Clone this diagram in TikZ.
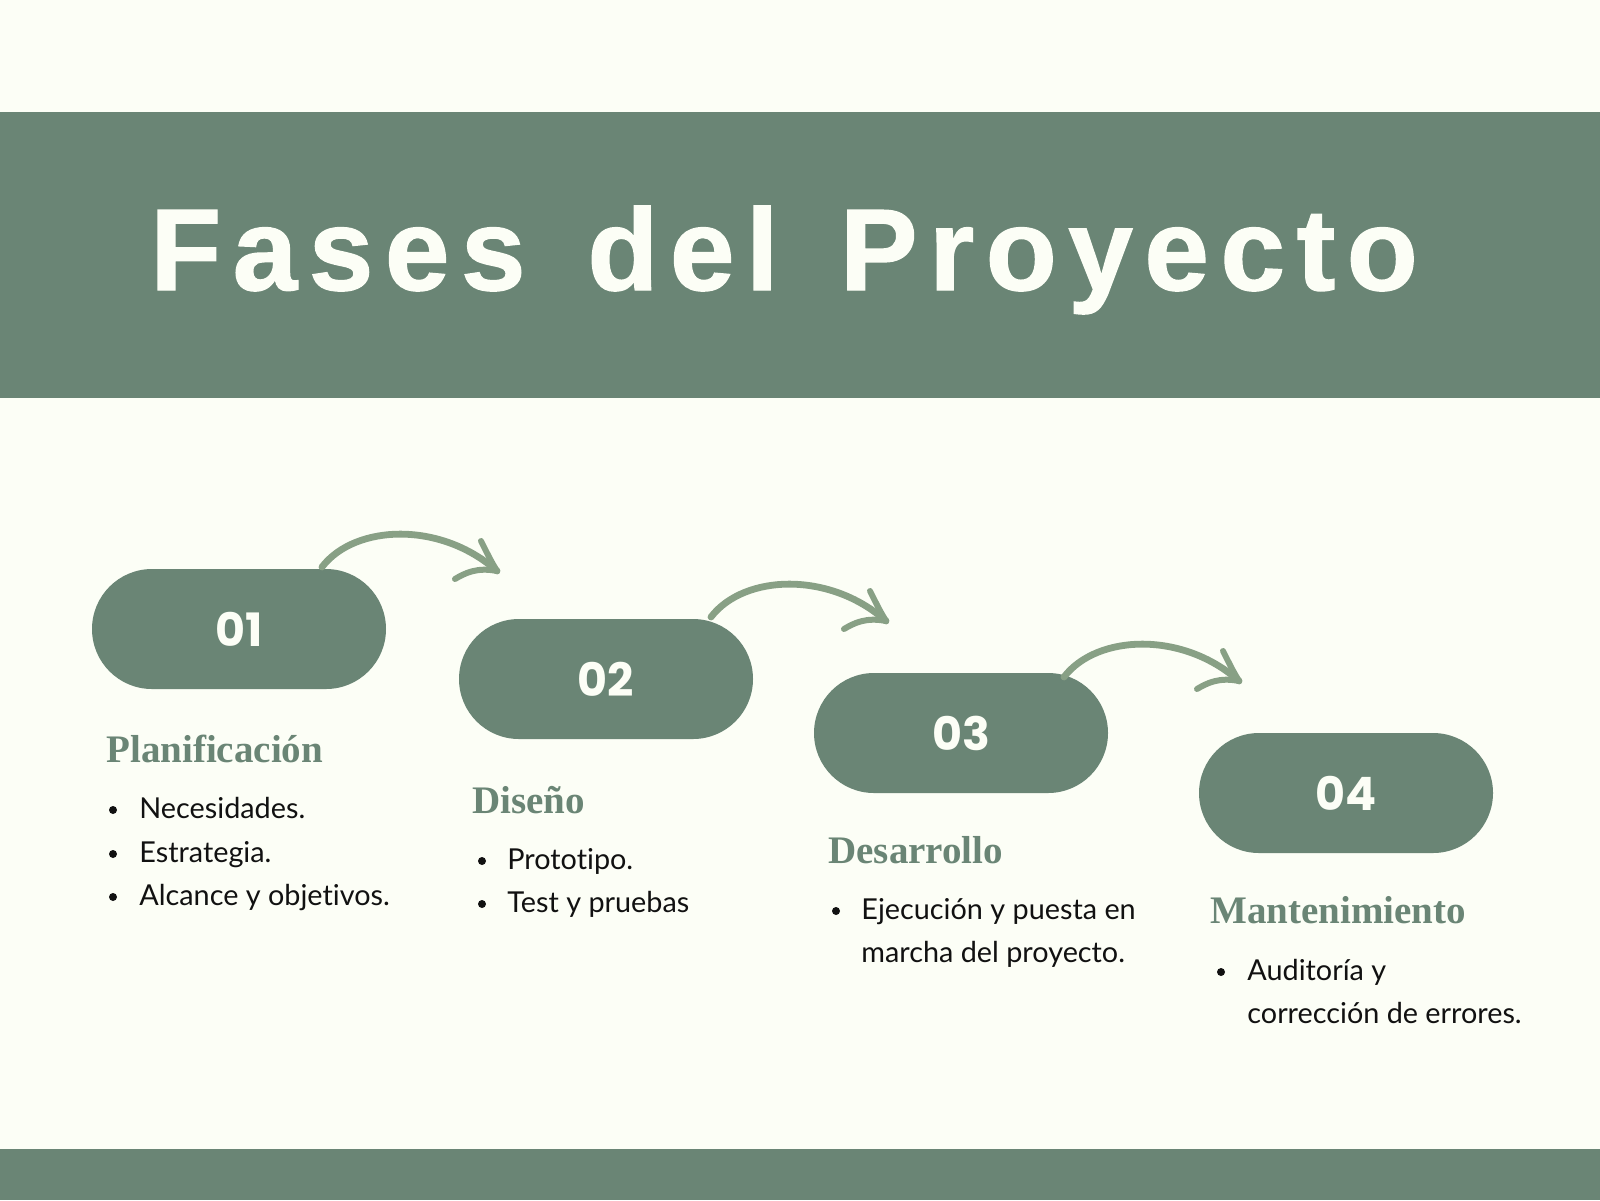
\documentclass[tikz,border=0pt]{standalone}
\usepackage{fontspec}
\setmainfont[Ligatures=NoCommon]{Lato}
\newfontfamily\titlefont[LetterSpace=10,FakeBold=1.2]{Liberation Sans}
\newfontfamily\numfont{Poppins}
\newfontfamily\headfont{Liberation Serif}
\definecolor{bgc}{HTML}{FCFEF6}
\definecolor{bandc}{HTML}{6A8575}
\definecolor{arrowc}{HTML}{88A085}
\definecolor{inkc}{HTML}{111111}
\begin{document}
\begin{tikzpicture}[x=0.5pt,y=-0.5pt,
  bandbox/.style={fill=bandc,draw=none},
  pill/.style={fill=bandc,draw=none,minimum width=147pt,minimum height=60pt,rounded corners=30pt,text=bgc,inner sep=0pt,font=\numfont\bfseries\fontsize{23}{24}\selectfont},
  head/.style={anchor=base west,inner sep=0pt,text=bandc,font=\headfont\bfseries\fontsize{19.5}{20}\selectfont},
  item/.style={anchor=base west,inner sep=0pt,text=inkc,font=\fontsize{14.4}{16}\selectfont},
  dot/.style={circle,fill=inkc,inner sep=0pt,minimum size=4pt},
  brush/.style={draw=arrowc,line width=3.4pt,line cap=round,line join=round},
  barb/.style={draw=arrowc,line width=3pt,line cap=round}]
\fill[bgc] (0,0) rectangle (1600,1200);
\useasboundingbox (0,0) rectangle (1600,1200);
\fill[bandc] (0,112) rectangle (1600,398);
\fill[bandc] (0,1149) rectangle (1600,1200);
\node[anchor=base west,inner sep=0pt,text=bgc,font=\titlefont\bfseries\fontsize{58}{60}\selectfont] (title) at (150,290) {Fases\ \hspace{9pt}del\ \hspace{9pt}Proyecto};
% pills
\node[pill] (p1) at (239,629) {01};
\node[pill] (p2) at (606,679) {02};
\node[pill] (p3) at (961,733) {03};
\node[pill] (p4) at (1346,793) {04};
% arrows
\foreach \i/\dx/\dy in {1/0/0,2/389/50,3/742/110}{
  \coordinate (a\i s) at (322+\dx,567+\dy);
  \coordinate (a\i t) at (497+\dx,571+\dy);
  \draw[brush] (a\i s) .. controls +(33,-43) and +(-56,-50) .. (a\i t);
  \draw[barb] (a\i t) .. controls +(-6,-10) .. +(-16,-30);
  \draw[barb] (a\i t) .. controls +(-20,-4) and +(10,-6) .. +(-42,8);
}
% column 1
\node[head] (h1) at (106,762) {Planificación};
\node[dot] (d1a) at (113,810) {};
\node[item] (t1a) at (139,818) {Necesidades.};
\node[dot] (d1b) at (113,854) {};
\node[item] (t1b) at (139,862) {Estrategia.};
\node[dot] (d1c) at (113,897) {};
\node[item] (t1c) at (139,905) {Alcance y objetivos.};
% column 2
\node[head] (h2) at (472,813) {Diseño};
\node[dot] (d2a) at (482,861) {};
\node[item] (t2a) at (507,869) {Prototipo.};
\node[dot] (d2b) at (482,904) {};
\node[item] (t2b) at (507,912) {Test y pruebas};
% column 3
\node[head] (h3) at (828,863) {Desarrollo};
\node[dot] (d3a) at (836,911) {};
\node[item] (t3a) at (861,919) {Ejecución y puesta en};
\node[item] (t3b) at (861,962) {marcha del proyecto.};
% column 4
\node[head] (h4) at (1210,923) {Mantenimiento};
\node[dot] (d4a) at (1221,972) {};
\node[item] (t4a) at (1247,980) {Auditoría y};
\node[item] (t4b) at (1247,1023) {corrección de errores.};
\end{tikzpicture}
\end{document}
